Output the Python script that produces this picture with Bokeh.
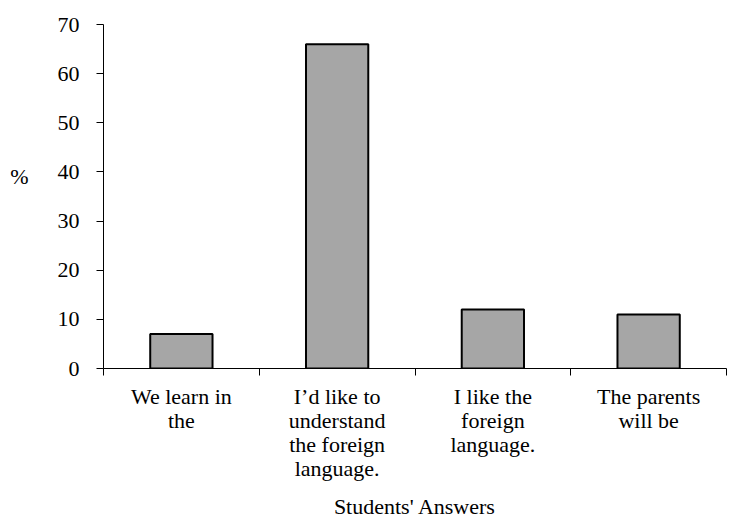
from bokeh.plotting import figure
from bokeh.models import Range1d, FixedTicker, LinearAxis
from bokeh.embed import file_html
from bokeh.resources import INLINE

# Survey results: share of students giving each answer
answers = [
    "We learn in\nthe",
    "I\u2019d like to\nunderstand\nthe foreign\nlanguage.",
    "I like the\nforeign\nlanguage.",
    "The parents\nwill be",
]
percent = [7, 66, 12, 11]
y_ticks = [0, 10, 20, 30, 40, 50, 60, 70]

FONT = "Liberation Serif"
SIZE = "22px"

positions = list(range(1, len(answers) + 1))
boundaries = [p - 0.5 for p in positions] + [positions[-1] + 0.5]

p = figure(
    frame_width=623, frame_height=344,
    min_border_left=103, min_border_right=19,
    min_border_top=24, min_border_bottom=152,
    x_range=Range1d(0.5, len(answers) + 0.5),
    y_range=Range1d(0, 70),
    output_backend="svg", toolbar_location=None,
    x_axis_location=None,
)
p.outline_line_color = None
p.xgrid.visible = False
p.ygrid.visible = False

p.vbar(x=positions, top=percent, width=0.4, bottom=0,
       fill_color="#a6a6a6", line_color="black", line_width=2)

# y axis; the blank second line lifts the "%" above the axis middle
ya = p.yaxis[0]
ya.ticker = FixedTicker(ticks=y_ticks)
ya.minor_tick_line_color = None
ya.major_tick_in = 0
ya.major_tick_out = 7
ya.axis_line_color = "black"
ya.major_tick_line_color = "black"
ya.major_label_text_font = FONT
ya.major_label_text_font_size = SIZE
ya.major_label_text_color = "black"
ya.major_label_standoff = 17
ya.axis_label = "%\n "
ya.axis_label_orientation = "horizontal"
ya.axis_label_text_font = FONT
ya.axis_label_text_font_size = SIZE
ya.axis_label_text_font_style = "normal"
ya.axis_label_text_color = "black"
ya.axis_label_text_line_height = 1.6
ya.axis_label_standoff = 26

# x axis line with ticks at the category boundaries
xa = LinearAxis(ticker=FixedTicker(ticks=boundaries))
xa.major_label_overrides = {b: "" for b in boundaries}
xa.major_label_text_font_size = "0px"
xa.major_label_standoff = 0
xa.minor_tick_line_color = None
xa.major_tick_in = 0
xa.major_tick_out = 7
xa.axis_line_color = "black"
xa.major_tick_line_color = "black"
p.add_layout(xa, "below")

# category labels and the axis title
la = LinearAxis(ticker=FixedTicker(ticks=positions))
la.major_label_overrides = {pos: txt for pos, txt in zip(positions, answers)}
la.axis_line_color = None
la.major_tick_line_color = None
la.minor_tick_line_color = None
la.major_label_text_font = FONT
la.major_label_text_font_size = SIZE
la.major_label_text_color = "black"
la.major_label_text_line_height = 0.97
la.major_label_standoff = 2
la.axis_label = "Students' Answers"
la.axis_label_text_font = FONT
la.axis_label_text_font_size = SIZE
la.axis_label_text_font_style = "normal"
la.axis_label_text_color = "black"
la.axis_label_standoff = 10
p.add_layout(la, "below")

open("out.html", "w").write(file_html(p, INLINE))
